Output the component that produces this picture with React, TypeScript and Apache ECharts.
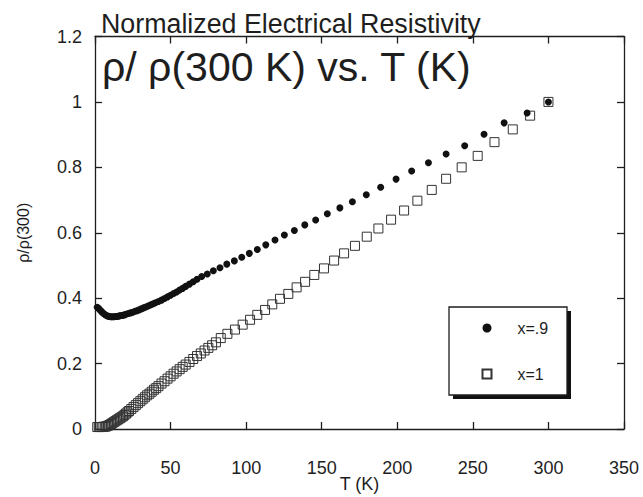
import React, { useEffect, useRef } from "react";
import * as echarts from "echarts";

const FONT = "'Liberation Sans', Arial, Helvetica, sans-serif";

const titleMain = "Normalized Electrical Resistivity";
const titleSub = "ρ/ ρ(300 K) vs. T (K)";
const xName = "T (K)";
const yName = "ρ/ρ(300)";
const seriesNames = ["x=.9", "x=1"];

const t09 = [1.5, 2.5, 3.5, 4.5, 5.5, 6.5, 7.5, 8.5, 9.5, 10.5, 11.5, 12.5, 13.5, 14.5, 15.5, 16.5, 17.5, 18.5, 19.5, 20.5, 22, 23.5, 25, 26.5, 28, 29.5, 31, 32.5, 34, 35.5, 37, 38.5, 40, 42, 44, 46, 48, 50, 52, 54, 56, 58, 60, 62.5, 65, 67.5, 70.6, 74.3, 78.3, 82.7, 87.2, 92.2, 97.1, 102.1, 107.4, 113, 119.1, 125.3, 131.9, 138.8, 146, 153.7, 162, 170.3, 179.5, 189, 199.2, 209.5, 220.6, 232.3, 244.6, 257.4, 270.7, 285.9, 300];
const r09 = [0.372, 0.368, 0.363, 0.358, 0.354, 0.35, 0.347, 0.345, 0.344, 0.343, 0.343, 0.343, 0.344, 0.344, 0.345, 0.346, 0.347, 0.348, 0.349, 0.351, 0.353, 0.355, 0.357, 0.36, 0.362, 0.365, 0.368, 0.371, 0.374, 0.377, 0.38, 0.383, 0.386, 0.39, 0.394, 0.399, 0.404, 0.409, 0.414, 0.419, 0.425, 0.43, 0.436, 0.443, 0.45, 0.458, 0.466, 0.474, 0.484, 0.493, 0.504, 0.514, 0.525, 0.537, 0.549, 0.563, 0.578, 0.593, 0.607, 0.624, 0.639, 0.658, 0.676, 0.695, 0.716, 0.739, 0.764, 0.789, 0.814, 0.841, 0.866, 0.901, 0.936, 0.966, 1.0];

const t1 = [1.5, 2.5, 3.5, 4.5, 5.5, 6.5, 7.5, 8.5, 9.5, 10.5, 11.5, 12.5, 13.5, 14.5, 15.5, 16.5, 17.5, 18.5, 19.5, 20.5, 21.5, 22.5, 24, 25.5, 27, 28.5, 30, 31.5, 33, 34.5, 36, 37.5, 39, 40.5, 42, 44, 46, 48, 50, 52, 54, 56, 58, 60, 62.5, 65, 67.5, 70, 72.5, 75, 77.5, 80, 83.2, 87.6, 92.6, 97.7, 102.6, 107.4, 112.5, 117.3, 122.4, 127.9, 133.4, 139, 145.1, 151.5, 158.2, 164.8, 172, 179.8, 187.5, 195.9, 204.5, 213.3, 222.8, 232.3, 242.6, 253.2, 264.3, 276.4, 287.9, 300];
const r1 = [0.006, 0.006, 0.006, 0.006, 0.007, 0.007, 0.008, 0.01, 0.012, 0.015, 0.018, 0.021, 0.024, 0.027, 0.03, 0.033, 0.036, 0.039, 0.043, 0.047, 0.051, 0.055, 0.061, 0.067, 0.073, 0.079, 0.085, 0.091, 0.097, 0.103, 0.108, 0.114, 0.12, 0.125, 0.131, 0.139, 0.146, 0.154, 0.161, 0.169, 0.176, 0.183, 0.19, 0.197, 0.205, 0.214, 0.223, 0.231, 0.24, 0.248, 0.256, 0.265, 0.278, 0.291, 0.304, 0.319, 0.334, 0.349, 0.364, 0.381, 0.398, 0.413, 0.433, 0.45, 0.471, 0.491, 0.515, 0.537, 0.56, 0.588, 0.613, 0.64, 0.668, 0.698, 0.731, 0.765, 0.8, 0.835, 0.877, 0.916, 0.958, 1.0];

const xMin = 0, xMax = 350, xStep = 50;
const yMin = 0, yMax = 1.2, yStep = 0.2;

const INK = "#1e1e1e";
const W = 643, H = 497;

export default function App() {
  const ref = useRef<HTMLDivElement>(null);
  useEffect(() => {
    if (!ref.current) return;
    const chart = echarts.init(ref.current, undefined, { renderer: "svg", width: W, height: H });
    const d09 = t09.map((t, i) => [t, r09[i]]);
    const d1 = t1.map((t, i) => [t, r1[i]]);
    const axisCommon = {
      axisLine: { show: true, onZero: false, lineStyle: { color: INK, width: 1.3 } },
      axisTick: { show: true, inside: true, length: 7, lineStyle: { color: INK, width: 1.3 } },
      splitLine: { show: false },
    };
    chart.setOption({
      animation: false,
      backgroundColor: "#ffffff",
      textStyle: { fontFamily: FONT },
      title: [
        {
          text: titleMain,
          left: 101,
          top: 10,
          padding: 0,
          textStyle: { fontFamily: FONT, fontSize: 26.8, fontWeight: "normal", color: INK },
        },
        {
          text: titleSub,
          left: 102,
          top: 46,
          padding: 0,
          textStyle: { fontFamily: FONT, fontSize: 41, fontWeight: "normal", color: INK },
        },
      ],
      grid: { left: 95, right: 19, top: 36.5, bottom: 68, containLabel: false, outerBoundsMode: "none" },
      xAxis: [
        {
          type: "value",
          min: xMin,
          max: xMax,
          interval: xStep,
          position: "bottom",
          name: xName,
          nameLocation: "middle",
          nameGap: 46,
          nameMoveOverlap: false,
          nameTextStyle: { fontFamily: FONT, fontSize: 18, lineHeight: 18, color: INK },
          axisLabel: { margin: 30, fontSize: 18, color: INK, fontFamily: FONT },
          ...axisCommon,
        },
        {
          type: "value",
          min: xMin,
          max: xMax,
          interval: xStep,
          position: "top",
          axisLabel: { show: false },
          ...axisCommon,
        },
      ],
      yAxis: [
        {
          type: "value",
          min: yMin,
          max: yMax,
          interval: yStep,
          position: "left",
          name: yName,
          nameLocation: "middle",
          nameRotate: 90,
          nameGap: 64,
          nameMoveOverlap: false,
          nameTextStyle: { fontFamily: FONT, fontSize: 16, color: INK },
          axisLabel: { margin: 13, fontSize: 18, color: INK, fontFamily: FONT },
          ...axisCommon,
        },
        {
          type: "value",
          min: yMin,
          max: yMax,
          interval: yStep,
          position: "right",
          axisLabel: { show: false },
          ...axisCommon,
        },
      ],
      legend: {
        data: [seriesNames[0], seriesNames[1]],
        orient: "vertical",
        left: 481.5,
        top: 319,
        itemWidth: 9,
        itemHeight: 9,
        itemGap: 28,
        padding: 0,
        textStyle: { fontFamily: FONT, fontSize: 16, color: INK, lineHeight: 18, padding: [0, 0, 0, 21] },
      },
      graphic: [
        { type: "rect", z: 3, shape: { x: 453, y: 311, width: 118, height: 88 }, style: { fill: "#111" } },
        { type: "rect", z: 3, shape: { x: 449, y: 307, width: 118, height: 88 }, style: { fill: "#fff", stroke: INK, lineWidth: 1.3 } },
      ],
      series: [
        {
          name: seriesNames[1],
          type: "scatter",
          data: d1,
          symbol: "rect",
          symbolSize: 9,
          itemStyle: { color: "rgba(255,255,255,0)", borderColor: "#333", borderWidth: 1, opacity: 1 },
          emphasis: { disabled: true },
        },
        {
          name: seriesNames[0],
          type: "scatter",
          data: d09,
          symbol: "circle",
          symbolSize: 7,
          itemStyle: { color: "#111", opacity: 1 },
          emphasis: { disabled: true },
        },
      ],
    });
    return () => chart.dispose();
  }, []);
  return <div ref={ref} style={{ width: W, height: H, position: "absolute", left: 0, top: 0 }} />;
}
